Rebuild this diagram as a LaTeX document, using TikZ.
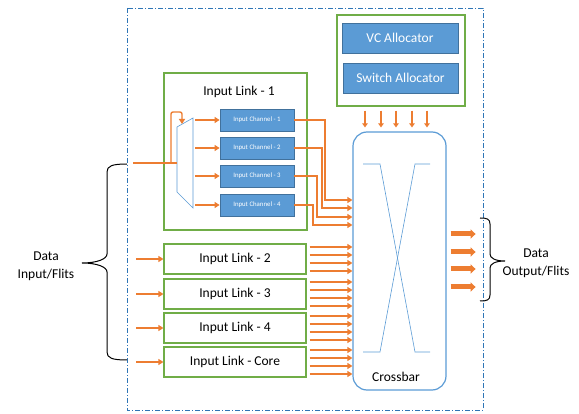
\documentclass[tikz,border=0pt]{standalone}
\usepackage{fontspec}
\setmainfont{Carlito}
\usepackage{tikz}
\usetikzlibrary{arrows.meta}
\definecolor{lgreen}{HTML}{70AD47}
\definecolor{mblue}{HTML}{5B9BD5}
\definecolor{dblue}{HTML}{41719C}
\definecolor{fblue}{HTML}{2E75B6}
\definecolor{pblue}{HTML}{9DC3E6}
\definecolor{orng}{HTML}{ED7D31}
\newcommand{\lbl}{\fontsize{13.5}{18}\selectfont}
\tikzstyle{greenbox} = [draw=lgreen, line width=1.2pt, fill=white, rectangle, inner sep=0pt, font=\lbl]
\tikzstyle{bluebox} = [draw=dblue, fill=mblue, line width=0.8pt, rectangle, inner sep=0pt, text=white]
\tikzstyle{xbarbox} = [draw=mblue, line width=1.2pt, rectangle, rounded corners=14pt, minimum width=93pt, minimum height=258pt]
\tikzstyle{xline} = [draw=mblue, line width=0.6pt]
\tikzstyle{demux} = [draw=mblue, line width=0.6pt, fill=white]
\tikzstyle{frame} = [draw=fblue, line width=0.9pt, dash pattern=on 5pt off 2pt on 1pt off 2pt]
\tikzstyle{oline} = [draw=orng, line width=2pt]
\tikzstyle{arr} = [draw=orng, line width=2pt, -{Triangle[length=5pt,width=6pt]}]
\tikzstyle{darr} = [draw=orng, line width=2.6pt, -{Triangle[length=4pt,width=5.5pt]}, shorten <=4pt, shorten >=4pt]
\tikzstyle{fatarr} = [draw=orng, line width=5pt, -{Triangle[length=5pt,width=9pt]}, shorten <=4pt]
\tikzstyle{brace} = [draw=black, line width=1pt]

\begin{document}
\begin{tikzpicture}[x=1pt,y=-1pt]
\useasboundingbox (0,0) rectangle (579,414);
\draw[frame] (127,8) rectangle (483,410);

% allocators
\node[greenbox, minimum width=128pt, minimum height=91pt] (alloc) at (401,60.5) {};
\node[bluebox, minimum width=116pt, minimum height=30pt, font=\lbl] (vc) at (400,38) {VC Allocator};
\node[bluebox, minimum width=115pt, minimum height=30pt, font=\lbl] (sw) at (400.5,78) {Switch Allocator};

% crossbar
\node[xbarbox] (xbar) at (399.5,261) {};
\draw[xline] (363,164) -- (380,164) -- (415,352) -- (430,352);
\draw[xline] (363,352) -- (380,352) -- (415,164) -- (430,164);
\node[font=\lbl] (xlabel) at (396,377) {Crossbar};
\foreach \x in {365,381,396,412,427}
  \draw[darr] (alloc.south -| \x,0) -- (xbar.north -| \x,0);

% input link 1
\node[greenbox, minimum width=143pt, minimum height=157pt] (link1) at (235.5,151.5) {};
\node[font=\lbl] (t1) at (239,92) {Input Link - 1};
\foreach \i/\y in {1/120,2/148,3/176,4/205}
  \node[bluebox, minimum width=74pt, minimum height=22pt, font=\fontsize{6.8}{8}\selectfont] (ch\i) at (257,\y) {Input Channel - \i};

\coordinate (m1) at (177,127);
\coordinate (m2) at (193,118);
\coordinate (m3) at (193,208);
\coordinate (m4) at (177,192);
\draw[demux] (m1) -- (m2) -- (m3) -- (m4) -- cycle;
\coordinate (feed) at (133,163);
\coordinate (tap) at (171,163);
\draw[oline] (feed) -- (feed -| m1);
\draw[arr, line width=1.4pt, rounded corners=2pt] (tap) |- (182,112) -- (182,124);
\foreach \i in {1,...,4}
  \draw[arr, shorten <=2pt] (ch\i.west -| m2) -- (ch\i.west);
\foreach \i/\bx/\ey in {1/325/200,2/322/208,3/317/217,4/313/225}
  \draw[arr] (ch\i.east) -| (\bx,\ey) -- (xbar.west |- 0,\ey);

% other input links
\foreach \n/\t/\y in {l2/2/259,l3/3/294,l4/4/328,lc/Core/362}
  \node[greenbox, minimum width=142pt, minimum height=30pt] (\n) at (235,\y) {Input Link - \t};
\foreach \n in {l2,l3,l4,lc} {
  \draw[arr] ([xshift=-27pt]\n.west) -- (\n.west);
  \foreach \dy in {12,4,-4,-12} {
    \coordinate (s) at ([yshift=\dy pt]\n.east);
    \draw[arr, shorten <=3pt] (s) -- (s -| xbar.west);
  }
}

% outputs
\foreach \y in {234,252,269,287}
  \draw[fatarr] (xbar.east |- 0,\y) -- ++(29,0);

% braces
\draw[brace] (127,164) .. controls (112,164) and (107,166) .. (107,172) -- (107,254)
  .. controls (107,259) and (97,263) .. (82,263) .. controls (97,263) and (107,267) .. (107,272)
  -- (107,352) .. controls (107,358) and (112,360) .. (127,360);
\node[font=\lbl, align=center] (din) at (46,266) {Data\\Input/Flits};
\draw[brace] (480,218) .. controls (487,218) and (490,219) .. (490,224) -- (490,254)
  .. controls (490,258) and (495,261) .. (505,261) .. controls (495,261) and (490,264) .. (490,268)
  -- (490,295) .. controls (490,300) and (487,301) .. (480,301);
\node[font=\lbl, align=center] (dout) at (536,263) {Data\\Output/Flits};
\end{tikzpicture}
\end{document}
